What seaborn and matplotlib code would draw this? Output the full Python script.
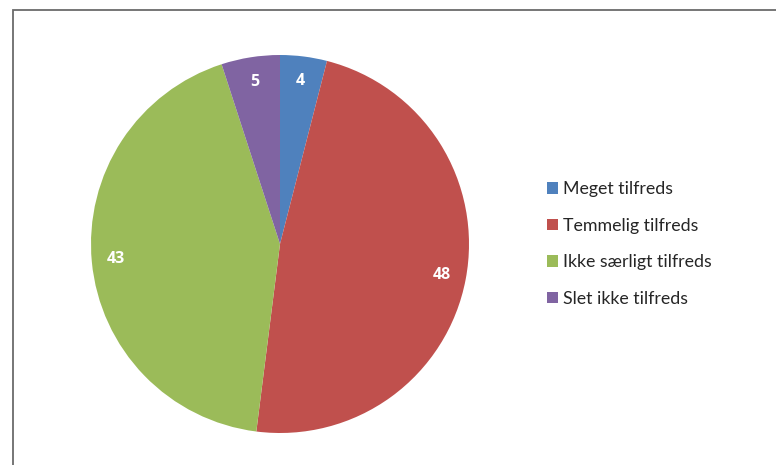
import matplotlib
matplotlib.use('Agg')
import matplotlib.pyplot as plt
import seaborn as sns
from matplotlib.patches import Rectangle

categories = ['Meget tilfreds', 'Temmelig tilfreds', 'Ikke særligt tilfreds', 'Slet ikke tilfreds']
values = [4, 48, 43, 5]
colors = ['#4F81BD', '#C0504D', '#9BBB59', '#8064A2']

sns.set_theme(style='white')
plt.rcParams['font.family'] = ['Lato', 'DejaVu Sans']

fig = plt.figure(figsize=(7.76, 4.65), dpi=100)

# chart frame (only left and top edges show in the picture)
fig.patches.append(Rectangle((13 / 776, -0.1), 1.2, (465 - 10) / 465 + 0.1,
                             transform=fig.transFigure, fill=False,
                             edgecolor='#6b6b6b', linewidth=1.3))

ax = fig.add_axes([91 / 776, 32 / 465, 378 / 776, 378 / 465])
wedges, texts, autotexts = ax.pie(values, colors=colors, startangle=90, counterclock=False,
                                  autopct=lambda p: f'{p:.0f}', pctdistance=0.87,
                                  wedgeprops=dict(linewidth=0))
for t in autotexts:
    t.set_color('white')
    t.set_fontfamily(['Open Sans', 'DejaVu Sans'])
    t.set_fontweight('bold')
    t.set_fontsize(11.5)
ax.set_xlim(-1, 1)
ax.set_ylim(-1, 1)
ax.set_aspect('equal')

fig.legend(wedges, categories, loc='center left', bbox_to_anchor=(540 / 776, 1 - 244 / 465),
           frameon=False, fontsize=12.8, handlelength=0.6, handleheight=0.6,
           handletextpad=0.3, labelspacing=1.15, borderaxespad=0)

fig.savefig('out.png', dpi=100)
